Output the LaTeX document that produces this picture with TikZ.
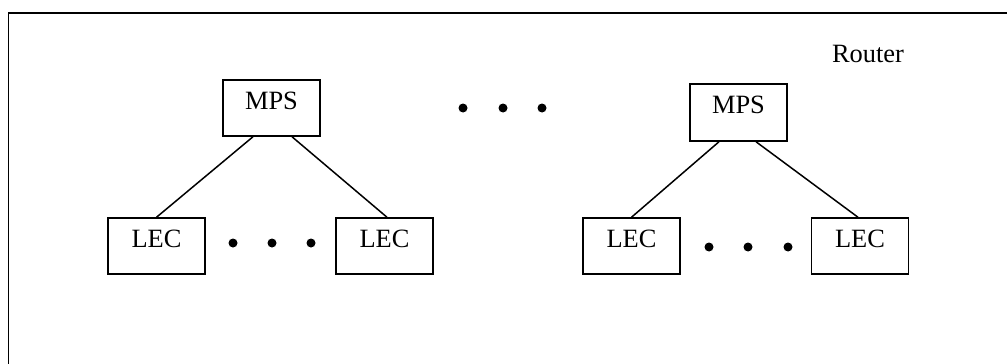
\documentclass[tikz,border=0pt]{standalone}
\usepackage{fontspec}
\setmainfont{Liberation Serif}
\begin{document}
\begin{tikzpicture}[x=1pt,y=-1pt,
  box/.style={draw,line width=1.5pt,inner sep=0pt,minimum width=97pt,minimum height=56pt,
    text width=97pt,align=center,text height=29pt,text depth=27pt,
    font=\fontsize{26.4}{30}\selectfont},
  dot/.style={circle,fill=black,inner sep=0pt,minimum size=9pt},
  link/.style={line width=1.5pt}]
\useasboundingbox (0,0) rectangle (1007,364);
\draw[line width=1.6pt] (8.5,364) -- (8.5,13) -- (1007,13);
\node[anchor=base,font=\fontsize{26.4}{30}\selectfont] (router) at (868,62.5) {Router};
\node[box] (m1) at (271.5,108) {MPS};
\node[box,minimum height=57pt,text depth=28pt] (m2) at (738.5,112.5) {MPS};
\node[box] (l1) at (156.5,246) {LEC};
\node[box] (l2) at (384.5,246) {LEC};
\node[box] (l3) at (631.5,246) {LEC};
\node[box] (l4) at (860,246) {LEC};
\draw[link] ([xshift=-18.5pt]m1.south) -- (l1.north);
\draw[link] ([xshift=20.5pt]m1.south) -- ([xshift=2.5pt]l2.north);
\draw[link] ([xshift=-19.5pt]m2.south) -- (l3.north);
\draw[link] ([xshift=17.5pt]m2.south) -- ([xshift=-2pt]l4.north);
\node[dot] (a1) at (463,108) {};
\node[dot] (a2) at (503,108) {};
\node[dot] (a3) at (542,108) {};
\node[dot] (b1) at (233,243) {};
\node[dot] (b2) at (272,243) {};
\node[dot] (b3) at (311,243) {};
\node[dot] (c1) at (709,247) {};
\node[dot] (c2) at (748,247) {};
\node[dot] (c3) at (788,247) {};
\end{tikzpicture}
\end{document}
